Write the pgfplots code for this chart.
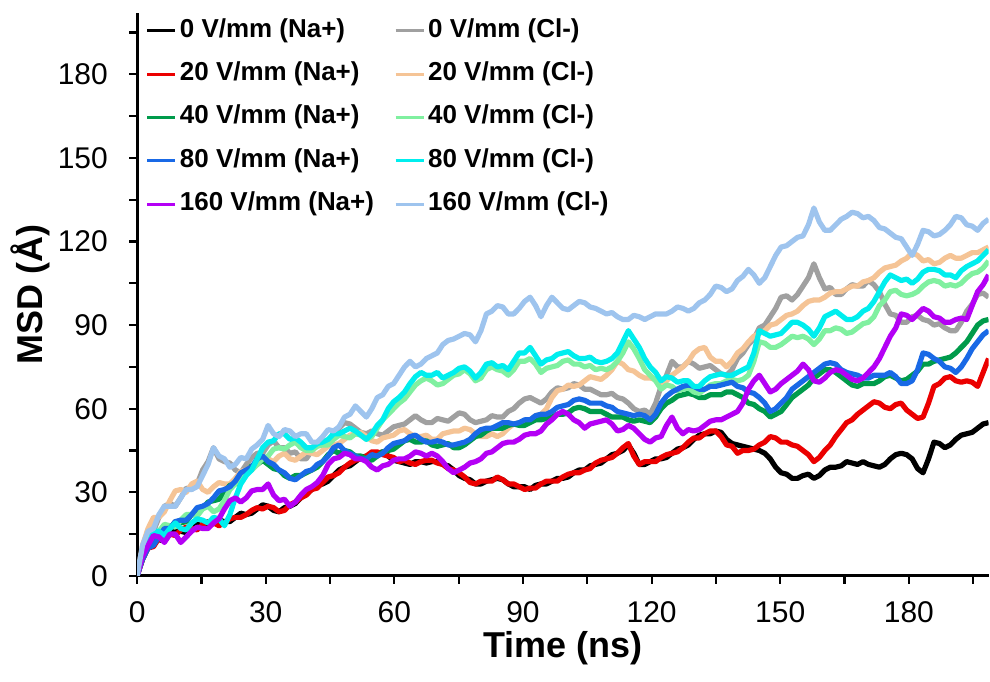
\documentclass[border=0pt]{standalone}
\usepackage{fontspec}
\setmainfont{Liberation Sans}
\usepackage{pgfplots}
\pgfplotsset{compat=1.18}
\usepackage{pgfplotstable}

\definecolor{cBlack}{RGB}{0,0,0}
\definecolor{cGray}{RGB}{160,160,160}
\definecolor{cRed}{RGB}{235,0,0}
\definecolor{cTan}{RGB}{245,196,150}
\definecolor{cGreen}{RGB}{0,155,75}
\definecolor{cLGreen}{RGB}{128,240,160}
\definecolor{cBlue}{RGB}{25,105,230}
\definecolor{cCyan}{RGB}{0,238,238}
\definecolor{cPurple}{RGB}{180,0,245}
\definecolor{cLBlue}{RGB}{158,196,238}

\pgfplotstableread{
t A F B G C H D I E J
0 0 0 0 0 0 0 0 0 0 0
1.27 6 9 6 11 7 9 6 9 7 11
2.55 10 14 10 17 11 13 10 13 11 16
3.82 13 16 10.5 21 14 15.5 11 16 14.5 17
5.09 13 21 13.5 21 14 16 14 16 14 22
6.37 12.5 25 15.5 23 14.5 18.5 17 14.5 12 25
7.64 15 26 15 27 17 18 17 17 15 25
8.91 16.5 25 14.5 30.5 19.5 17.5 19.5 19 15 25
10.18 16 28 16.5 31 19 20 20 17 12 28
11.46 15.5 31.5 17.5 30 19.5 22 20 16.5 14 31
12.73 17 31 17 33 22 22 22 19 16 31
14.0 18.5 33 16.5 34 24 21.5 24.5 20.5 17.5 32
15.28 18 38 18.5 31 24 24 25 20 17 36
16.55 17.5 41 19.5 30 26.5 25 26 19 17 40
17.82 19 46 19 32 27 23 28 21 19 46
19.1 20 42 18 33.5 27.5 24 30.5 20.5 20.5 43
20.37 19.5 41 19 33 30 27 31 18 24 42
21.64 19.5 40.5 20.5 33 32.5 31 32 22 27 39
22.91 21 38 21 35 33 33 34 28 28 40
24.19 22.5 37 21 37.5 34 35.5 37 33 26.5 42.5
25.46 22 40 22 38 37 37 38 36 28 42
26.73 22.5 42.5 23.5 38 39.5 38 39 38 30.5 45.5
28.01 24 44 24.5 40 40 40 42 42 31 47
29.28 25.5 44 24 41.5 41.5 42 43 46 31 49
30.55 25 47 25 42 40 43 41 48 33 54
31.83 23.5 48.5 24.5 41 38.5 45.5 40 48.5 29 51
33.1 23 46 23 43 38 46 38 51 27 50
34.37 24.5 46 23.5 44 36 45.5 37 51 27.5 52.5
35.64 25 44 25.5 42 35 47 35 49 25 52
36.92 26 44.5 26.5 41.5 36 48 34.5 49.5 26.5 50
38.19 28 42 28 43 36 46 36 48 29 51
39.46 29.5 42 29 44.5 37 45 37.5 46 31 51
40.74 31 45 31 44 38 45 38 46 32 48
42.01 32.5 47.5 31.5 43.5 39 46.5 40 47.5 33.5 48
43.28 33 48 33.5 45 41 47 41 48 36 50
44.56 34 48.5 35.5 46.5 43.5 47 43 49 40 52.5
45.83 36 51 36 47 45 49 46 51 42 52
47.1 38 53 37 47.5 44 50.5 47 51 42.5 53.5
48.37 39 55 39 49 45 50 45 52 44 57
49.65 39.5 54.5 40.5 50.5 44.5 49.5 44 53 43.5 58
50.92 41 53 41.5 51 43 51 43 52 42 61
52.19 42.5 51.5 42 51.5 43 50.5 42 50.5 42 59
53.47 43 51 43 50 42 49 42 49 41 57
54.74 43 52 44.5 48.5 41.5 50 43.5 51 39 60
56.01 44 51 44.5 48 43 53 43 54 38 64
57.29 44.5 50.5 43.5 49.5 44.5 56 44 56 39.5 65
58.56 43 52 43 50 45 58 46 60 40 68
59.83 41.5 53.5 42.5 50.5 45.5 60 47.5 62.5 41.5 69
61.1 41 54 41 52 47 62 48 64 42 72
62.38 40.5 54.5 41.5 52.5 48.5 63.5 48.5 66 42 75
63.65 40 56 40.5 51 49 66 50 69 43 77
64.92 41 57.5 40 50 48 68.5 50.5 71.5 44.5 75
66.2 41 56 41 50 48 70 49 73 44 76
67.47 40.5 55 41.5 50.5 48.5 71 48 72 43 78
68.74 41 55 41.5 49 47 70 48 72 44 79
70.02 41 56.5 40.5 49 46.5 68.5 48.5 73 43 80
71.29 40 56 40 51 47 69 48 71 41 83
72.56 39.5 55.5 38.5 51.5 47.5 70.5 47 72 38.5 84.5
73.83 38 57 38 52 46 72 47 73 37 85
75.11 36 58.5 37 52 46 72.5 47.5 74.5 38 86
76.38 35 58 35.5 53 47 74 48 75 39 87
77.65 34.5 56 33.5 52.5 48.5 72.5 49 73.5 40.5 86.5
78.93 33 55 33 51 50 70 51 71 41 84
80.2 33 55.5 34 50 50.5 71 52.5 73 42 88
81.47 34 56 34 50 52 74 53 76 44 94
82.75 34.5 57.5 34 51 53 75 53 76.5 44.5 95
84.02 35 57 35.5 50 53 74 54 75 46 97
85.29 34.5 57 34.5 51 53 73.5 55 75.5 47.5 96.5
86.56 33 59 33 53 54 72 55 74 48 94
87.84 32 60 33 54.5 54.5 74 54.5 77 48 94
89.11 32 62 32 55 54 77 55 80 49 96
90.38 32 63.5 31 55 54 77 56 80 50.5 98.5
91.66 31 64 31.5 56 55 78 56 82 51 100
92.93 32.5 63 31.5 57.5 56 76 57.5 79 51 97
94.2 33 62 33 58 56 73 58 76 52 93
95.48 33 63.5 34 60 56.5 74.5 58 77.5 54.5 97
96.75 34 66 34 64 57 75 59 78 56 100
98.02 35 67.5 34 66.5 58 75.5 60.5 79.5 58 98
99.29 35 67 35.5 67 58 77 61 80 59 96
100.57 35.5 67.5 36.5 68.5 58.5 77.5 61.5 80.5 58 95.5
101.84 37 69 37 68 60 76 63 79 56 97
103.11 38 68.5 37 68.5 60.5 76 63.5 78 55 98.5
104.39 38 67 38 70 60 75 63 78 53 98
105.66 39.5 67 38.5 71.5 59 75.5 62 78.5 54.5 96.5
106.93 40 66 40.5 71 59 74 62 77 55 96
108.21 40.5 65 41.5 70.5 59 74.5 62 76.5 55.5 95
109.48 42 65 42 72 58 74 61 77 56 94
110.75 43.5 65.5 42.5 74 57 75 60.5 78 54.5 94.5
112.02 44 64 44 77 57 77 59 80 52 93
113.3 45 63.5 46 76 57 80 58.5 84 52.5 92
114.57 47 62 47.5 74 56 84 58 88 54 92
115.84 44 60 43 73.5 55.5 81.5 57.5 85 53 93.5
117.12 40 59 40 72 56 78 58 82 51 93
118.39 40 59.5 41 71 55.5 74 57.5 78 49 92
119.66 41 58 41 71 55 72 56 75 48 93
120.94 42 62 41 70.5 57 70 58 73 49.5 94
122.21 42 68 42.5 69 60 67 62 70 50 94
123.48 42.5 72 43.5 70 62 68.5 64.5 71.5 54 94
124.75 44 77 44 72 63 68 66 71 57 95
126.03 45.5 75 44.5 73.5 64.5 66.5 67 69.5 53 96.5
127.3 46 75 46 75 65 67 68 70 51 96
128.57 47 77 48 77 65.5 67.5 68.5 70 52.5 95
129.85 49 76 49.5 80 65 66 68 68 52 96
131.12 50.5 74.5 49.5 81.5 64 65.5 67 68 52.5 98
132.39 51 75 51 82 64 67 67 70 54 99
133.67 51 75.5 52 78.5 65 68.5 68 71.5 55.5 101
134.94 52 74 52 77 65 69 68 72 56 104
136.21 51.5 72.5 50 77 65 69 68.5 72.5 56 103.5
137.48 49 72 47 75 66 70 69 72 57 102
138.76 47.5 74 46.5 77 66 70.5 69.5 72 58 103
140.03 47 78 44 80 65 70 68 73 59 106
141.3 46.5 80 45 81.5 64 70.5 67.5 74 62 107.5
142.58 46 83 45 84 62 72 66 75 67 110
143.85 45.5 85 45.5 86 61.5 77 65.5 80 70 108
145.12 45 89 47 87 60 84 64 88 72 105
146.4 44 90 48 88 59 83.5 62 87 69 107
147.67 42 93 50 90 57 82 59 86 66 111
148.94 39 96 49.5 90.5 58 82 60 86.5 67 115
150.21 37 100 48 92 59 83 62 87 69 118
151.49 36.5 100.5 48 93.5 61.5 84.5 64 89 70.5 118.5
152.76 35 99 47 94 64 86 67 91 72 120
154.03 35 101 46.5 95 65.5 85.5 68.5 91 73.5 121.5
155.31 36 104 45 97 67 86 70 90 76 122
156.58 36.5 107 43.5 98.5 68.5 85 71.5 88.5 74 126
157.85 35 112 41 99 71 83 73 86 70 132
159.13 36 107 42.5 99 72.5 85 74.5 89 69.5 127
160.4 38 103 45 100 74 88 76 93 71 124
161.67 39 103.5 47 101.5 74 88 76.5 94 73 124
162.94 39 101 50 102 73 89 76 95 74 126
164.22 39.5 101 52.5 102 71.5 88.5 74 93.5 73.5 128
165.49 41 103 55 103 70 87 73 92 72 129
166.76 40.5 104.5 56 104 68.5 87.5 72.5 92 70.5 130.5
168.04 40 104 58 104 68 89 72 93 70 130
169.31 41 104 59.5 105.5 69 90.5 71 95 71 128.5
170.58 40 106 61 106 69 91 71 96 73 129
171.86 39.5 104.5 62.5 107 69 93 72 98.5 75 127.5
173.13 39 102 62 109 70 97 72 102 78 125
174.4 40 97.5 60.5 110.5 71.5 99 72 105.5 82 124.5
175.67 42 94 60 111 72 102 73 108 86 123
176.95 43.5 93.5 61.5 111.5 71 102.5 71.5 107 89 121.5
178.22 44 91 62 113 70 101 69 106 94 121
179.49 43.5 91 59.5 114 70.5 100.5 69 106.5 93.5 118
180.77 42 93 58 116 72 101 70 105 92 115
182.04 38.5 93.5 56.5 115 73.5 102 74 106.5 94 119
183.31 37 92 57 113 76 104 80 109 96 124
184.59 42 91.5 62 113.5 76 105.5 79.5 110 95 123.5
185.86 48 90 68 112 77 106 78 110 93 122
187.13 47.5 90.5 69 112.5 77.5 105.5 77 109.5 92.5 122.5
188.4 46 89 71 114 78 104 75 108 91 124
189.68 47 88 71.5 115 78.5 104.5 74.5 108 91 126
190.95 49 88 70 114 80 104 73 107 92 129
192.22 50.5 91 69.5 114 82 105 75 109.5 92.5 128.5
193.5 51 95 70 115 84 107 78 111 92 126
194.77 51.5 97.5 69.5 116 87 108.5 81.5 112 97 125.5
196.04 53 101 68 116 90 109 84 113 102 124
197.32 54.5 101.5 73 117 91.5 110.5 86.5 115 104.5 126.5
198.59 55 100 78 118 92 113 88 117 108 128
}\msd

\begin{document}
\begin{tikzpicture}
\begin{axis}[
  width=426.35pt, height=281.85pt, scale only axis,
  xmin=0, xmax=198.6, ymin=0, ymax=202,
  axis x line=bottom, axis y line=left,
  axis line style={-, line width=1.4pt},
  xtick={0,30,...,180}, minor xtick={15,45,...,195},
  ytick={0,30,...,180}, minor ytick={15,45,...,195},
  tick align=outside, major tick length=4pt, minor tick length=4pt,
  every tick/.style={black, line width=1.1pt},
  /pgf/number format/assume math mode=true,
  tick label style={font=\fontsize{15}{17}\selectfont},
  yticklabel style={font=\fontsize{15}{17}\selectfont, inner sep=0pt, xshift=-10.5pt},
  xticklabel style={font=\fontsize{15}{17}\selectfont, inner sep=0pt, yshift=-8.5pt},
  xlabel={Time (ns)}, ylabel={MSD (Å)},
  label style={font=\fontsize{18}{20}\selectfont\bfseries},
  xlabel style={at={(axis description cs:0.5,-0.1442)}, anchor=base},
  ylabel style={at={(axis description cs:-0.1106,0.5)}, anchor=base},
  legend columns=2,
  legend cell align=left,
  legend style={draw=none, fill=none, at={(axis description cs:0,1)}, anchor=north west,
    inner sep=0pt, outer sep=0pt, xshift=4.35pt, yshift=-3.15pt,
    font=\fontsize{13}{14}\selectfont\bfseries, row sep=10.1pt,
    nodes={inner xsep=1.5pt, inner ysep=0pt, text height=9pt, text depth=2.6pt},
    /tikz/every even column/.append style={column sep=8.5pt}},
  legend image code/.code={\draw[#1, line width=1.6pt] (0pt,0pt) -- (14pt,0pt);},
  every axis plot/.append style={line width=2.6pt, line join=round},
]
\addplot[cBlack] table[x=t,y=A]{\msd}; \addlegendentry{0 V/mm (Na+)}
\addplot[cGray] table[x=t,y=F]{\msd}; \addlegendentry{0 V/mm (Cl-)}
\addplot[cRed] table[x=t,y=B]{\msd}; \addlegendentry{20 V/mm (Na+)}
\addplot[cTan] table[x=t,y=G]{\msd}; \addlegendentry{20 V/mm (Cl-)}
\addplot[cGreen] table[x=t,y=C]{\msd}; \addlegendentry{40 V/mm (Na+)}
\addplot[cLGreen] table[x=t,y=H]{\msd}; \addlegendentry{40 V/mm (Cl-)}
\addplot[cBlue] table[x=t,y=D]{\msd}; \addlegendentry{80 V/mm (Na+)}
\addplot[cCyan] table[x=t,y=I]{\msd}; \addlegendentry{80 V/mm (Cl-)}
\addplot[cPurple] table[x=t,y=E]{\msd}; \addlegendentry{160 V/mm (Na+)}
\addplot[cLBlue] table[x=t,y=J]{\msd}; \addlegendentry{160 V/mm (Cl-)}
\end{axis}
\path ([xshift=-68.65pt,yshift=-52.65pt]current axis.south west) rectangle ([yshift=6.5pt]current axis.north east);
\end{tikzpicture}
\end{document}
